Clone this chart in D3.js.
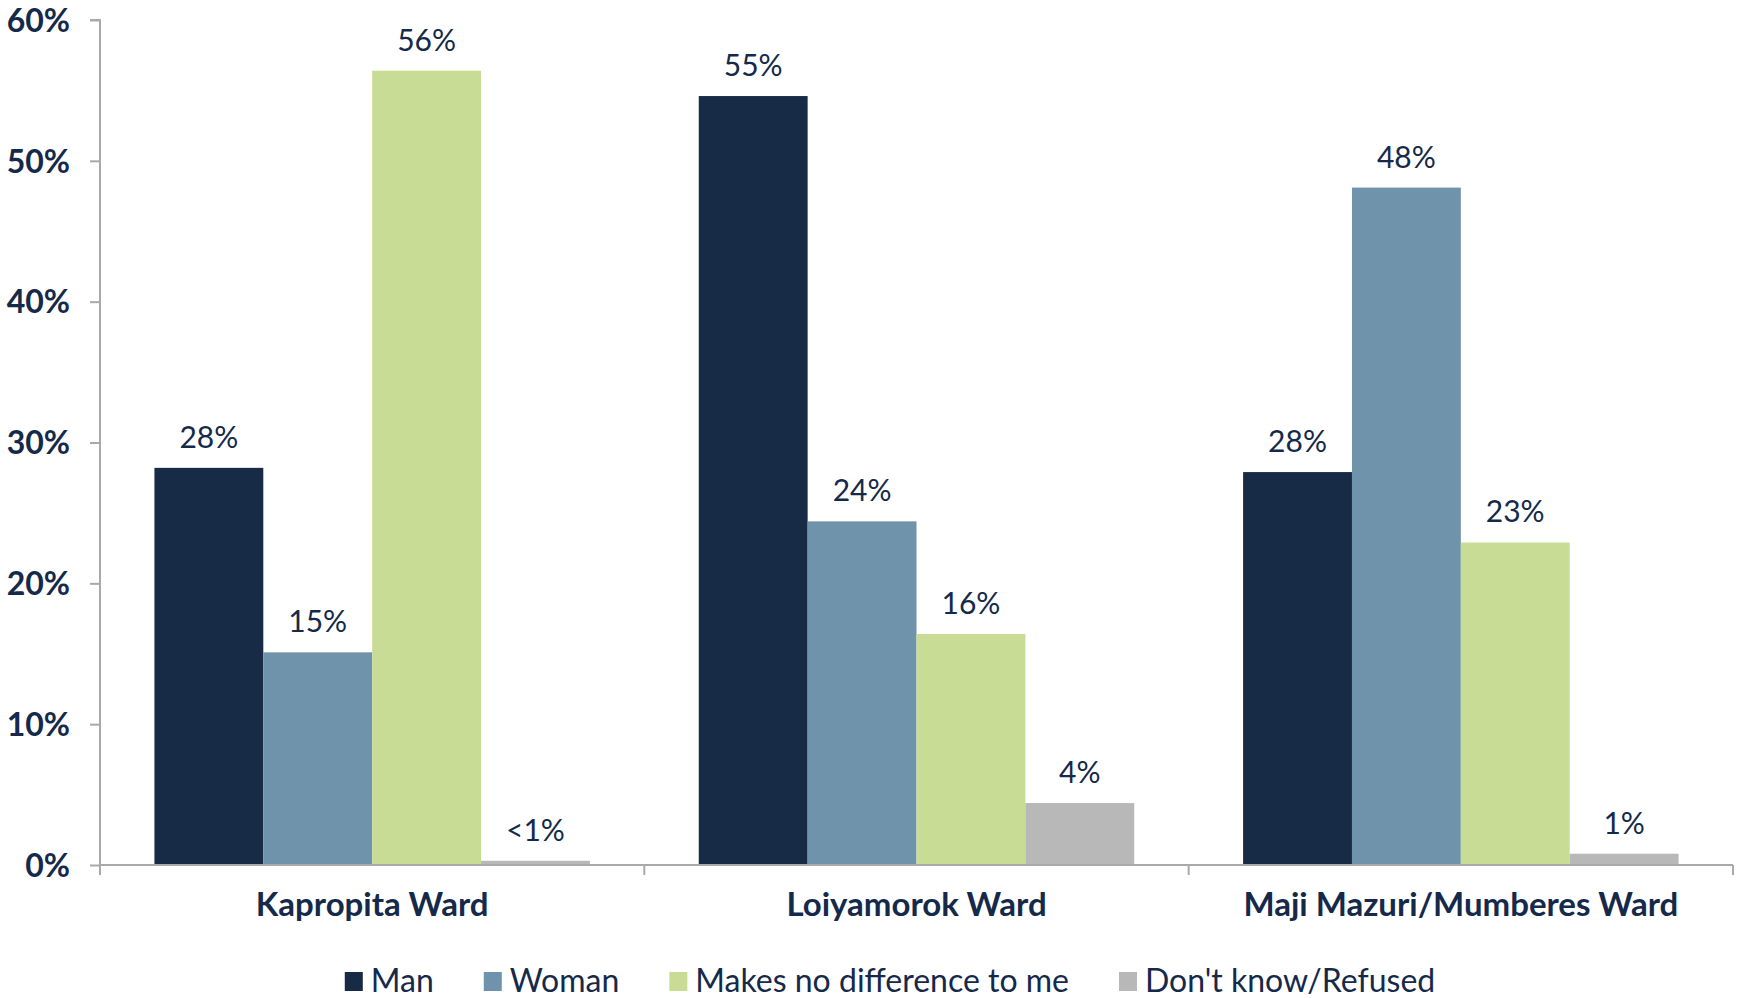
<!DOCTYPE html>
<html><head><meta charset="utf-8">
<script src="https://cdn.jsdelivr.net/npm/d3@7/dist/d3.min.js"></script>
<style>
html,body{margin:0;padding:0;background:#fff;}
svg text{font-family:"Lato","Open Sans",sans-serif;fill:#15294a;}
</style></head>
<body><svg id="chart" width="1738" height="998"></svg>
<script>
const categories = ["Kapropita Ward", "Loiyamorok Ward", "Maji Mazuri/Mumberes Ward"];
const seriesNames = ["Man", "Woman", "Makes no difference to me", "Don't know/Refused"];
const seriesColors = ["#172a46", "#6f93aa", "#c9dc96", "#b8b8b8"];
const manValues = [28.2, 54.6, 27.9];
const womanValues = [15.1, 24.4, 48.1];
const noDiffValues = [56.4, 16.4, 22.9];
const dkValues = [0.3, 4.4, 0.8];
const manLabels = ["28%", "55%", "28%"];
const womanLabels = ["15%", "24%", "48%"];
const noDiffLabels = ["56%", "16%", "23%"];
const dkLabels = ["<1%", "4%", "1%"];
const yTicks = [0, 10, 20, 30, 40, 50, 60];

const seriesValues = [manValues, womanValues, noDiffValues, dkValues];
const seriesLabels = [manLabels, womanLabels, noDiffLabels, dkLabels];

const svg = d3.select("#chart");
const mLeft = 100, mRight = 1733, mTop = 20, mBottom = 865;

const x0 = d3.scaleBand().domain(categories).range([mLeft, mRight]).paddingInner(0).paddingOuter(0);
const x1 = d3.scaleBand().domain(seriesNames)
  .range([x0.bandwidth() * 0.1, x0.bandwidth() * 0.9]).padding(0);
const y = d3.scaleLinear().domain([0, 60]).range([mBottom, mTop]);

// bars
const groups = svg.append("g").selectAll("g").data(categories).join("g")
  .attr("transform", d => `translate(${x0(d)},0)`);
groups.each(function(cat, ci) {
  const g = d3.select(this);
  seriesNames.forEach((s, si) => {
    const v = seriesValues[si][ci];
    g.append("rect")
      .attr("x", x1(s)).attr("width", x1.bandwidth())
      .attr("y", y(v)).attr("height", y(0) - y(v))
      .attr("fill", seriesColors[si]);
    g.append("text")
      .attr("x", x1(s) + x1.bandwidth() / 2)
      .attr("y", y(v) - 20)
      .attr("text-anchor", "middle")
      .attr("font-size", 30)
      .text(seriesLabels[si][ci]);
  });
});

// y axis
const yAxis = d3.axisLeft(y).tickValues(yTicks).tickFormat(d => d + "%").tickSize(10).tickPadding(20);
const yg = svg.append("g").attr("transform", `translate(${mLeft},0)`).call(yAxis);
yg.select(".domain").attr("stroke", "#a9a9a9").attr("stroke-width", 2).attr("d", `M-10,${mTop}H0V${mBottom}`);
yg.selectAll(".tick line").attr("stroke", "#a9a9a9").attr("stroke-width", 2);
yg.selectAll(".tick text").attr("font-size", 32).attr("font-weight", "bold")
  .attr("font-family", "Lato, sans-serif").attr("fill", "#15294a").attr("dy", "0.35em");

// x axis
const xAxis = d3.axisBottom(x0).tickSize(0).tickPadding(0);
const xg = svg.append("g").attr("transform", `translate(0,${mBottom})`).call(xAxis);
xg.select(".domain").attr("stroke", "#a9a9a9").attr("stroke-width", 2).attr("d", `M${mLeft},0H${mRight}`);
xg.selectAll(".tick text").attr("font-size", 33).attr("font-weight", "bold")
  .attr("font-family", "Lato, sans-serif").attr("fill", "#15294a").attr("dy", 0).attr("y", 51);
// category boundary ticks
const bounds = categories.map(c => x0(c)).concat([mRight]);
xg.selectAll(".bound").data(bounds).join("line").attr("class", "bound")
  .attr("x1", d => d).attr("x2", d => d).attr("y1", 0).attr("y2", 10)
  .attr("stroke", "#a9a9a9").attr("stroke-width", 2);

// legend
const legend = svg.append("g");
let lx = 0;
seriesNames.forEach((s, i) => {
  const it = legend.append("g");
  it.append("rect").attr("x", 0).attr("y", -20).attr("width", 18).attr("height", 19).attr("fill", seriesColors[i]);
  const t = it.append("text").attr("x", 26).attr("y", 0).attr("font-size", 32).text(s);
  const w = 26 + t.node().getComputedTextLength();
  it.attr("transform", `translate(${lx},0)`);
  lx += w + 50;
});
const lw = lx - 50;
legend.attr("transform", `translate(${890 - lw / 2},992)`);
</script></body></html>
